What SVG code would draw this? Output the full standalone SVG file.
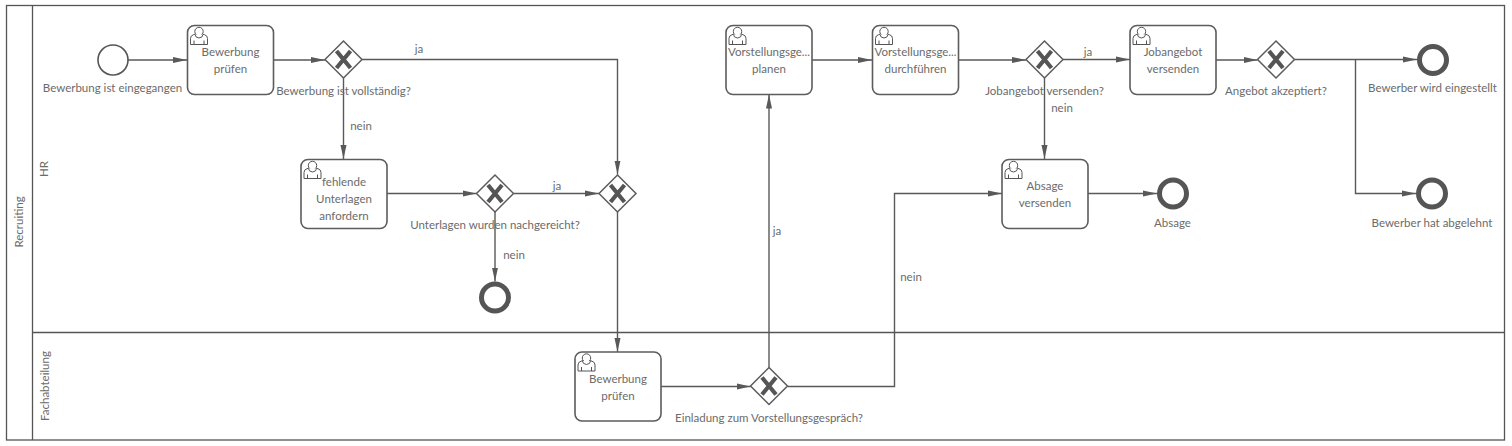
<svg xmlns="http://www.w3.org/2000/svg" width="1512" height="446" viewBox="0 0 1512 446">
<style>
text{font-family:"Lato","Noto Sans","Liberation Sans",sans-serif;font-size:11.5px;fill:#6b6b6b;text-anchor:middle}
.pool{fill:none;stroke:#555;stroke-width:1.3}
.t{fill:#fff;stroke:#5c5c5c;stroke-width:1.6}
.c{fill:none;stroke:#595959;stroke-width:1.4;marker-end:url(#a)}
.s{fill:#fff;stroke:#555;stroke-width:1.6}
.e{fill:#fff;stroke:#555;stroke-width:5}
.gd{fill:#fff;stroke:#5c5c5c;stroke-width:1.5}
.gx{fill:none;stroke:#555;stroke-width:4.2}
.u{fill:#fff;stroke:#555;stroke-width:1}
</style>
<defs>
<marker id="a" markerUnits="userSpaceOnUse" markerWidth="15" markerHeight="8" refX="14" refY="4" orient="auto"><path d="M0 1L14 4L0 7Z" fill="#595959"/></marker>
<g id="user"><path class="u" d="M0.500 17v-6q0-3 3-3.800l3.500-1h4l3.500 1q3 .8 3 3.800v6Z"/><path class="u" d="M4 17v-4M14 17v-4"/><circle class="u" cx="9" cy="4" r="4.200"/><path class="u" d="M5 7q0 3 4 3.500q4-.5 4-3.500"/></g>
<g id="gw"><path class="gd" d="M0-18.500L18.500 0L0 18.500L-18.500 0Z"/><path class="gx" d="M-7-8.500L7 8.500M7-8.500L-7 8.500"/></g>
</defs>
<rect width="1512" height="446" fill="#fff"/>
<g id="pool"><rect class="pool" x="6.500" y="5.500" width="1498" height="434.500"/><path class="pool" d="M32.500 5.500V440M32.500 332.500H1504.500"/>
<text transform="translate(23 222) rotate(-90)">Recruiting</text><text transform="translate(48 169) rotate(-90)">HR</text><text transform="translate(49 386) rotate(-90)">Fachabteilung</text></g>
<g id="connectors">
<path class="c" d="M128 60H187"/><path class="c" d="M273 60H325"/><path class="c" d="M361.500 59.500H617.500V174.500"/><path class="c" d="M343.500 78V159"/>
<path class="c" d="M387 193.500H476.500"/><path class="c" d="M513.500 193.500H599"/><path class="c" d="M495 212V281.500"/><path class="c" d="M617.500 212V352"/>
<path class="c" d="M661 386.500H750.500"/><path class="c" d="M769 367.500V94.500"/><path class="c" d="M787.500 386.500H894.500V193.500H1002"/><path class="c" d="M812 60H872"/>
<path class="c" d="M958 60H1026"/><path class="c" d="M1063 59.500H1130"/><path class="c" d="M1216 60H1257.500"/><path class="c" d="M1294.500 59.500H1417"/><path class="c" d="M1355.500 59.500V193.500H1416"/>
<path class="c" d="M1044.500 78V159"/><path class="c" d="M1088 193.500H1157"/>
<text x="419" y="53">ja</text><text x="361" y="130">nein</text><text x="557" y="190">ja</text><text x="514" y="259">nein</text><text x="777" y="235">ja</text><text x="911" y="281">nein</text><text x="1088" y="56">ja</text><text x="1062" y="112">nein</text>
</g>
<g id="n1"><circle class="s" cx="113" cy="60" r="15"/><text x="112.500" y="92">Bewerbung ist eingegangen</text></g>
<g id="n2"><rect class="t" x="187.500" y="25.500" width="86" height="69" rx="7"/><use href="#user" x="190" y="27.500"/><text x="230.500" y="56">Bewerbung</text><text x="230.500" y="73">prüfen</text></g>
<g id="n3"><use href="#gw" x="343.500" y="59.500"/><text x="343.500" y="95">Bewerbung ist vollständig?</text></g>
<g id="n4"><rect class="t" x="301" y="159.500" width="86" height="69" rx="7"/><use href="#user" x="303.500" y="161.500"/><text x="344" y="186">fehlende</text><text x="344" y="203">Unterlagen</text><text x="344" y="220">anfordern</text></g>
<g id="n5"><use href="#gw" x="495" y="193.500"/><text x="495" y="229">Unterlagen wurden nachgereicht?</text></g>
<g id="n6"><use href="#gw" x="617.500" y="193.500"/></g>
<g id="n7"><circle class="e" cx="495" cy="297.500" r="13.500"/></g>
<g id="n8"><rect class="t" x="575" y="352" width="86" height="69" rx="7"/><use href="#user" x="577.500" y="354"/><text x="618" y="383">Bewerbung</text><text x="618" y="400">prüfen</text></g>
<g id="n9"><use href="#gw" x="769" y="386"/><text x="769" y="422">Einladung zum Vorstellungsgespräch?</text></g>
<g id="n10"><rect class="t" x="726" y="25.500" width="86" height="69" rx="7"/><use href="#user" x="728.500" y="27.500"/><text x="769" y="56">Vorstellungsge...</text><text x="769" y="73">planen</text></g>
<g id="n11"><rect class="t" x="872.500" y="25.500" width="86" height="69" rx="7"/><use href="#user" x="875" y="27.500"/><text x="915.500" y="56">Vorstellungsge...</text><text x="915.500" y="73">durchführen</text></g>
<g id="n12"><use href="#gw" x="1044.500" y="59.500"/><text x="1044.500" y="95">Jobangebot versenden?</text></g>
<g id="n13"><rect class="t" x="1130" y="25.500" width="86" height="69" rx="7"/><use href="#user" x="1132.500" y="27.500"/><text x="1173" y="56">Jobangebot</text><text x="1173" y="73">versenden</text></g>
<g id="n14"><use href="#gw" x="1276" y="59.500"/><text x="1276" y="95">Angebot akzeptiert?</text></g>
<g id="n15"><circle class="e" cx="1433" cy="60" r="13.500"/><text x="1432.500" y="92">Bewerber wird eingestellt</text></g>
<g id="n16"><circle class="e" cx="1432" cy="193.500" r="13.500"/><text x="1432" y="227">Bewerber hat abgelehnt</text></g>
<g id="n17"><rect class="t" x="1002" y="159.500" width="86" height="69" rx="7"/><use href="#user" x="1004.500" y="161.500"/><text x="1045" y="190">Absage</text><text x="1045" y="207">versenden</text></g>
<g id="n18"><circle class="e" cx="1173" cy="193.500" r="13.500"/><text x="1172.500" y="227">Absage</text></g>
</svg>
